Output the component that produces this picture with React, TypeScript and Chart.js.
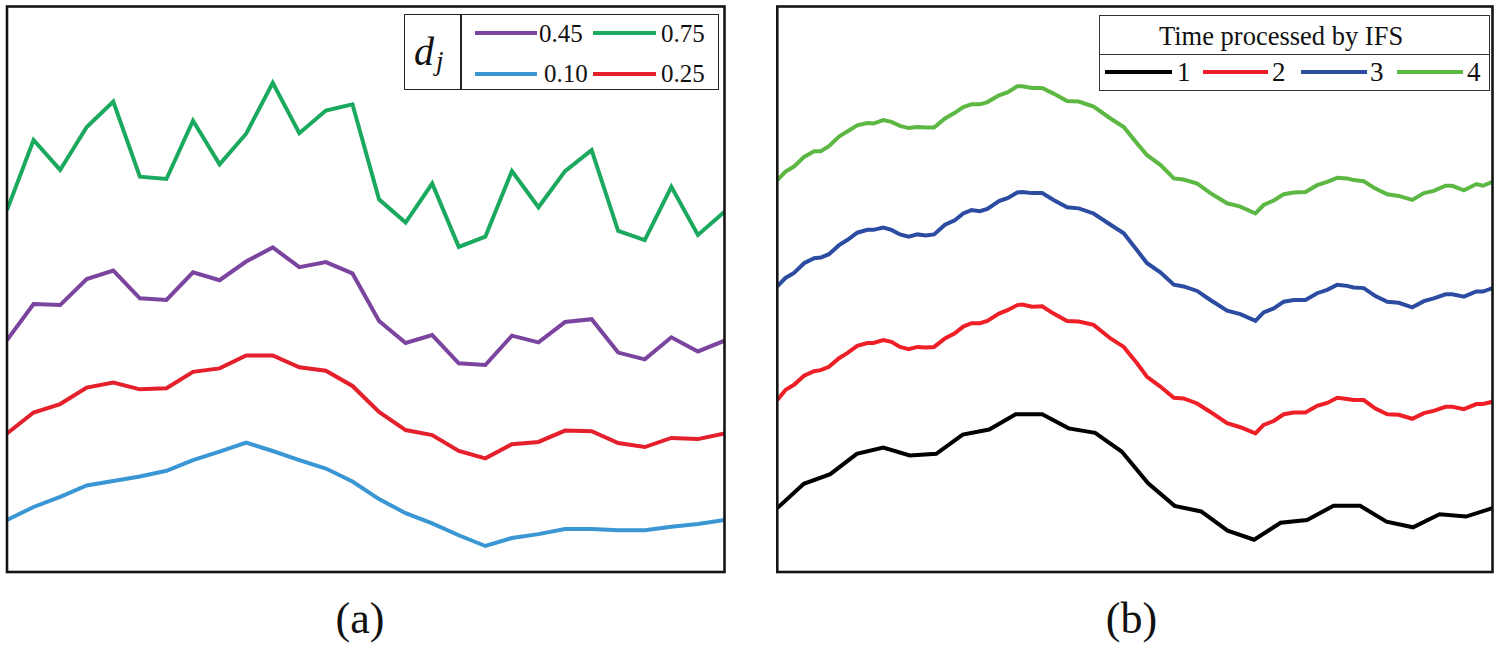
import React, { useEffect, useRef } from "react";
import { Chart, registerables } from "chart.js";

Chart.register(...registerables);

// ---------- Panel (a): d_j series, 28 steps ----------
const stepsA = [0, 1, 2, 3, 4, 5, 6, 7, 8, 9, 10, 11, 12, 13, 14, 15, 16, 17, 18, 19, 20, 21, 22, 23, 24, 25, 26, 27];
const dj045 = [41.0, 47.4, 47.2, 51.8, 53.3, 48.4, 48.1, 53.0, 51.6, 54.9, 57.4, 53.9, 54.8, 52.8, 44.4, 40.5, 41.9, 36.9, 36.6, 41.8, 40.6, 44.2, 44.7, 38.8, 37.6, 41.5, 39.0, 40.9];
const dj075 = [64.0, 76.4, 71.1, 78.7, 83.2, 69.9, 69.5, 79.8, 72.1, 77.5, 86.5, 77.6, 81.6, 82.7, 65.9, 61.8, 68.7, 57.5, 59.3, 70.9, 64.5, 70.9, 74.6, 60.3, 58.7, 68.1, 59.6, 63.7];
const dj010 = [9.2, 11.5, 13.3, 15.3, 16.1, 16.9, 17.9, 19.8, 21.3, 22.9, 21.4, 19.8, 18.3, 16.0, 12.9, 10.4, 8.6, 6.5, 4.6, 6.0, 6.7, 7.6, 7.6, 7.4, 7.4, 8.0, 8.5, 9.2];
const dj025 = [24.5, 28.2, 29.7, 32.6, 33.5, 32.3, 32.5, 35.4, 36.0, 38.3, 38.3, 36.2, 35.6, 32.9, 28.3, 25.1, 24.2, 21.4, 20.1, 22.6, 23.0, 25.0, 24.9, 22.8, 22.1, 23.7, 23.5, 24.5];

// ---------- Panel (b): times processed by IFS ----------
const ifs1 = [11.3, 15.6, 17.3, 20.9, 22.0, 20.6, 20.9, 24.3, 25.2, 27.9, 27.9, 25.4, 24.6, 21.3, 15.7, 11.7, 10.7, 7.3, 5.7, 8.7, 9.2, 11.7, 11.7, 8.9, 7.9, 10.2, 9.8, 11.3];
const stepsFine = [0, 0.31, 0.63, 1.01, 1.39, 1.64, 1.95, 2.33, 2.64, 3.02, 3.40, 3.63, 4.00, 4.31, 4.63, 4.96, 5.29, 5.60, 5.92, 6.33, 6.70, 7.02, 7.33, 7.65, 7.93, 8.37, 8.69, 9.06, 9.24, 9.62, 10.00, 10.43, 10.94, 11.38, 11.94, 12.58, 13.08, 13.58, 13.96, 14.46, 14.97, 15.34, 15.85, 16.35, 16.98, 17.48, 18.05, 18.36, 18.74, 19.12, 19.50, 19.94, 20.38, 20.76, 21.14, 21.51, 21.76, 22.14, 22.58, 23.03, 23.46, 23.97, 24.41, 24.78, 25.23, 25.48, 25.92, 26.39, 26.64, 27];
const ifs2 = [30.4, 32.2, 33.1, 34.7, 35.5, 35.7, 36.3, 37.8, 38.7, 40.0, 40.5, 40.5, 41.0, 40.7, 39.8, 39.4, 39.8, 39.7, 39.8, 41.3, 42.2, 43.4, 44.0, 44.0, 44.4, 45.7, 46.3, 47.2, 47.3, 46.9, 47.0, 45.7, 44.4, 44.3, 43.7, 41.3, 39.8, 36.9, 34.5, 32.8, 30.8, 30.7, 29.8, 28.3, 26.3, 25.6, 24.5, 26.0, 26.7, 27.9, 28.2, 28.2, 29.4, 29.9, 30.8, 30.6, 30.4, 30.4, 28.9, 27.9, 27.8, 27.1, 28.1, 28.5, 29.2, 29.2, 28.8, 29.7, 29.7, 30.1];
const ifs3 = [50.5, 52.0, 52.9, 54.6, 55.5, 55.6, 56.2, 57.8, 58.7, 60.0, 60.5, 60.5, 60.9, 60.5, 59.7, 59.3, 59.7, 59.5, 59.7, 61.4, 62.2, 63.4, 64.0, 63.8, 64.2, 65.6, 66.1, 67.1, 67.2, 67.0, 67.0, 65.8, 64.5, 64.3, 63.4, 61.4, 59.9, 56.9, 54.6, 53.0, 50.8, 50.5, 49.7, 48.1, 46.2, 45.6, 44.4, 45.9, 46.6, 47.8, 48.1, 48.1, 49.3, 49.9, 50.8, 50.6, 50.3, 50.2, 48.8, 47.8, 47.6, 46.8, 47.9, 48.4, 49.1, 49.1, 48.7, 49.6, 49.6, 50.2];
const ifs4 = [69.3, 70.8, 71.7, 73.4, 74.4, 74.4, 75.3, 77.0, 77.9, 79.0, 79.4, 79.3, 79.9, 79.6, 78.9, 78.5, 78.7, 78.6, 78.6, 80.2, 81.2, 82.2, 82.7, 82.7, 83.1, 84.3, 84.8, 85.9, 85.9, 85.6, 85.6, 84.6, 83.3, 83.2, 82.3, 80.2, 78.7, 75.8, 73.7, 72.0, 69.6, 69.4, 68.7, 67.0, 65.2, 64.6, 63.4, 64.9, 65.7, 66.8, 67.1, 67.2, 68.4, 69.0, 69.7, 69.6, 69.3, 69.1, 67.8, 66.8, 66.5, 65.8, 67.0, 67.4, 68.3, 68.3, 67.5, 68.6, 68.3, 69.0];

const labelsA = ["0.45", "0.75", "0.10", "0.25"];
const labelsB = ["1", "2", "3", "4"];
const legendTitleB = "Time processed by IFS";

const C_PURPLE = "#7a449f";
const C_GREEN_A = "#1aa95e";
const C_BLUE_A = "#3a97d3";
const C_RED_A = "#e3202b";
const C_BLACK = "#000000";
const C_RED_B = "#ee1f26";
const C_BLUE_B = "#2c4ca1";
const C_GREEN_B = "#5cb843";

const SERIF = '"Liberation Serif", "Times New Roman", serif';

const zip = (xs: number[], ys: number[]) => ys.map((y, i) => ({ x: xs[i], y }));

const framePlugin = {
  id: "frame",
  afterDatasetsDraw(chart: any) {
    const { ctx, chartArea: a } = chart;
    ctx.save();
    ctx.lineWidth = 2.6;
    ctx.strokeStyle = "#141414";
    ctx.strokeRect(a.left, a.top, a.right - a.left, a.bottom - a.top);
    ctx.restore();
  },
};

function makeConfig(datasets: any[], padding: any) {
  return {
    type: "line" as const,
    data: { datasets },
    options: {
      responsive: false,
      animation: false as const,
      layout: { padding },
      plugins: { legend: { display: false }, tooltip: { enabled: false } },
      elements: { point: { radius: 0 }, line: { borderWidth: 4, tension: 0 } },
      scales: {
        x: { type: "linear" as const, min: 0, max: 27, display: false },
        y: { type: "linear" as const, min: 0, max: 100, display: false },
      },
    },
    plugins: [framePlugin],
  };
}

function Txt(props: { x: number; base: number; size: number; text: string; italic?: boolean; center?: boolean; width?: number }) {
  const { x, base, size, text, italic, center, width } = props;
  const top = base - 0.8375 * size;
  return (
    <div
      style={{
        position: "absolute",
        left: x,
        top,
        width: width,
        textAlign: center ? "center" : "left",
        fontFamily: SERIF,
        fontSize: size,
        lineHeight: `${size}px`,
        fontStyle: italic ? "italic" : "normal",
        color: "#111",
        whiteSpace: "nowrap",
      }}
    >
      {text}
    </div>
  );
}

function Swatch(props: { x: number; y: number; w: number; color: string }) {
  return (
    <div
      style={{
        position: "absolute",
        left: props.x,
        top: props.y - 2,
        width: props.w,
        height: 4,
        background: props.color,
      }}
    />
  );
}

export default function App() {
  const refA = useRef<HTMLCanvasElement>(null);
  const refB = useRef<HTMLCanvasElement>(null);

  useEffect(() => {
    const chartA = new Chart(
      refA.current as HTMLCanvasElement,
      makeConfig(
        [
          { label: labelsA[0], data: zip(stepsA, dj045), borderColor: C_PURPLE },
          { label: labelsA[1], data: zip(stepsA, dj075), borderColor: C_GREEN_A },
          { label: labelsA[2], data: zip(stepsA, dj010), borderColor: C_BLUE_A },
          { label: labelsA[3], data: zip(stepsA, dj025), borderColor: C_RED_A },
        ],
        { left: 7, top: 6.5, right: 15.5, bottom: 18 }
      ) as any
    );
    const chartB = new Chart(
      refB.current as HTMLCanvasElement,
      makeConfig(
        [
          { label: labelsB[0], data: zip(stepsA, ifs1), borderColor: C_BLACK },
          { label: labelsB[1], data: zip(stepsFine, ifs2), borderColor: C_RED_B },
          { label: labelsB[2], data: zip(stepsFine, ifs3), borderColor: C_BLUE_B },
          { label: labelsB[3], data: zip(stepsFine, ifs4), borderColor: C_GREEN_B },
        ],
        { left: 17.3, top: 6.5, right: 7.5, bottom: 18 }
      ) as any
    );
    return () => {
      chartA.destroy();
      chartB.destroy();
    };
  }, []);

  return (
    <div style={{ position: "fixed", left: 0, top: 0, width: 1500, height: 645, background: "#fff", overflow: "hidden" }}>
      <canvas ref={refA} width={740} height={590} style={{ position: "absolute", left: 0, top: 0 }} />
      <canvas ref={refB} width={740} height={590} style={{ position: "absolute", left: 760, top: 0 }} />

      {/* Legend (a) */}
      <div style={{ position: "absolute", left: 404, top: 14, width: 315, height: 76, border: "1.5px solid #222", boxSizing: "border-box", background: "#fff" }} />
      <div style={{ position: "absolute", left: 460, top: 14, width: 1.5, height: 76, background: "#222" }} />
      <Txt x={414} base={65} size={40} text="d" italic />
      <Txt x={436} base={71} size={27} text="j" italic />
      <Swatch x={475} y={33} w={62} color={C_PURPLE} />
      <Txt x={539} base={41.7} size={25} text={labelsA[0]} />
      <Swatch x={593} y={33} w={63} color={C_GREEN_A} />
      <Txt x={661} base={41.7} size={25} text={labelsA[1]} />
      <Swatch x={475} y={74} w={62} color={C_BLUE_A} />
      <Txt x={544} base={81.7} size={25} text={labelsA[2]} />
      <Swatch x={593} y={74} w={63} color={C_RED_A} />
      <Txt x={661} base={81.7} size={25} text={labelsA[3]} />

      {/* Legend (b) */}
      <div style={{ position: "absolute", left: 1098.5, top: 15, width: 391, height: 75.5, border: "1.5px solid #333", boxSizing: "border-box", background: "#fff" }} />
      <div style={{ position: "absolute", left: 1098.5, top: 53.5, width: 391, height: 1.5, background: "#333" }} />
      <Txt x={1159} base={45} size={26.5} text={legendTitleB} />
      <Swatch x={1105} y={71.7} w={67} color={C_BLACK} />
      <Txt x={1177} base={81.7} size={27} text={labelsB[0]} />
      <Swatch x={1203} y={71.7} w={65} color={C_RED_B} />
      <Txt x={1272} base={81.7} size={27} text={labelsB[1]} />
      <Swatch x={1301} y={71.7} w={66} color={C_BLUE_B} />
      <Txt x={1370} base={81.7} size={27} text={labelsB[2]} />
      <Swatch x={1397} y={71.7} w={66} color={C_GREEN_B} />
      <Txt x={1467} base={81.7} size={27} text={labelsB[3]} />

      {/* Captions */}
      <Txt x={0} width={720} base={634} size={44} text="(a)" center />
      <Txt x={774} width={715} base={634} size={44} text="(b)" center />
    </div>
  );
}
